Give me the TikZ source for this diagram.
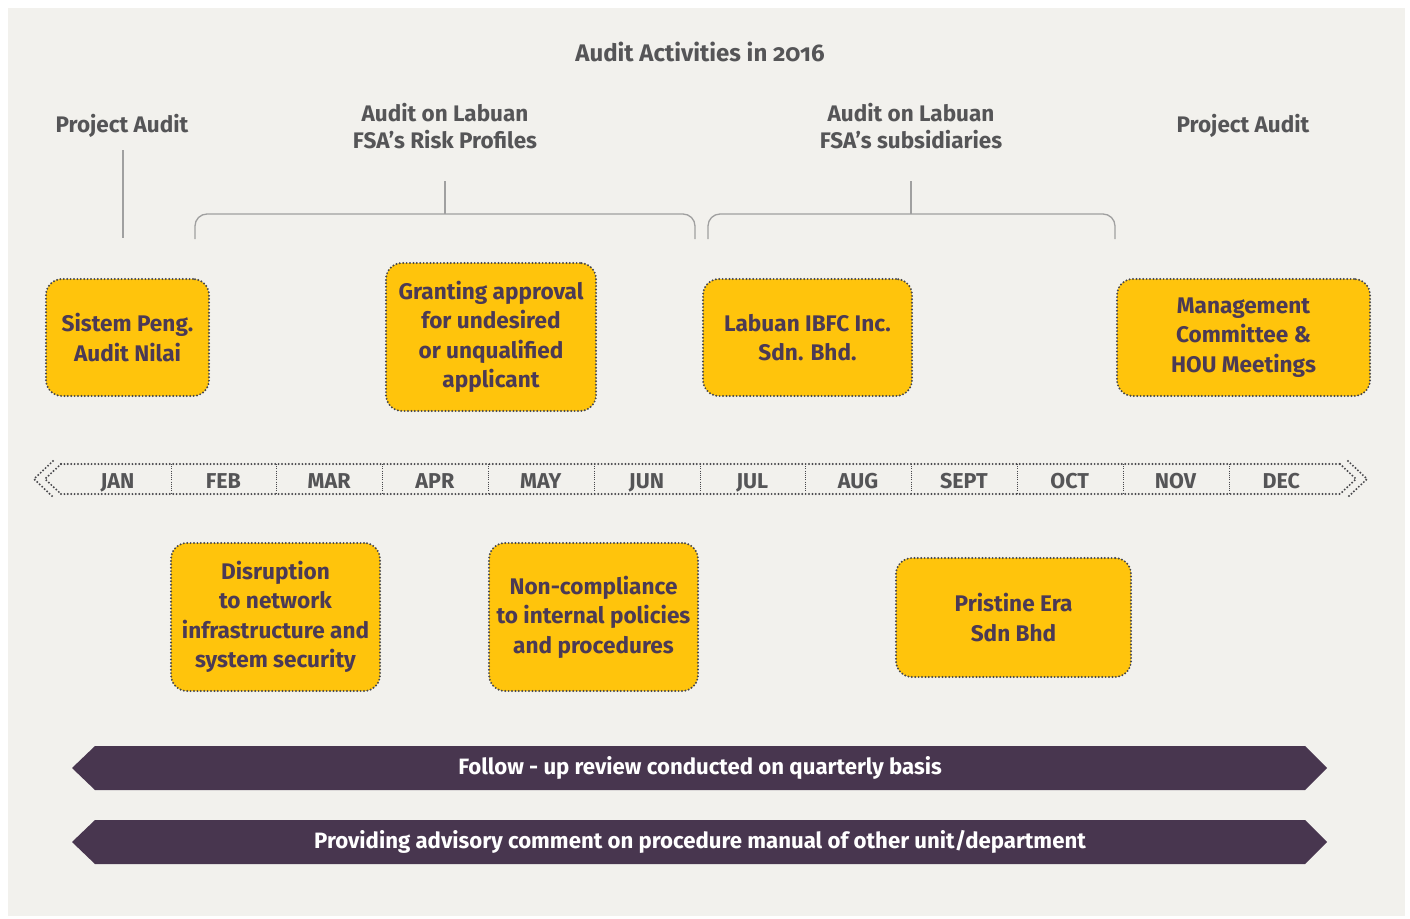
\documentclass[tikz,border=0pt]{standalone}
\usepackage{fontspec}
\setmainfont{Fira Sans}[Numbers=OldStyle]
\definecolor{bg}{HTML}{F2F1ED}
\definecolor{ybox}{HTML}{FFC40C}
\definecolor{ytext}{HTML}{4B3A55}
\definecolor{gtext}{HTML}{555557}
\definecolor{dotc}{HTML}{48484C}
\definecolor{brk}{HTML}{A0A0A0}
\definecolor{band}{HTML}{48364F}
\tikzset{
  act/.style={draw=dotc, line width=2.2pt, dash pattern=on 0pt off 3.4pt, line cap=round,
    fill=ybox, rounded corners=16pt, text=ytext, font=\bfseries\fontsize{22.6}{29.5}\selectfont,
    align=center, inner sep=0pt},
  hdr/.style={text=gtext, font=\bfseries\fontsize{22.5}{27}\selectfont, align=center, inner sep=0pt},
  ttl/.style={text=gtext, font=\bfseries\fontsize{24}{28}\selectfont, inner sep=0pt},
  mon/.style={text=gtext, font=\bfseries\fontsize{21.5}{24}\selectfont, inner sep=0pt},
  dotl/.style={draw=dotc, line width=2.2pt, dash pattern=on 0pt off 3.4pt, line cap=round},
  divl/.style={draw=dotc, line width=1pt, dash pattern=on 1pt off 1.2pt},
  brkl/.style={draw=brk, line width=1.3pt},
  bandtxt/.style={text=white, font=\bfseries\fontsize{22.2}{25}\selectfont, inner sep=0pt}
}
\begin{document}
\begin{tikzpicture}[x=1pt,y=-1pt]
\useasboundingbox (0,0) rectangle (1410,918);
\fill[white] (0,0) rectangle (1410,918);
\fill[bg] (8,8) rectangle (1405,916);

% headers
\node[ttl] (title) at (700,52) {Audit Activities in 2016};
\node[hdr] (pa1) at (122,126) {Project Audit};
\node[hdr] (rp) at (445,126) {Audit on Labuan\\FSA’s Risk Profiles};
\node[hdr] (sub) at (911,126) {Audit on Labuan\\FSA’s subsidiaries};
\node[hdr] (pa2) at (1243,126) {Project Audit};

% connectors / brackets
\coordinate (pa1t) at (123,150);
\coordinate (pa1b) at (123,238);
\draw[brkl] (pa1t) -- (pa1b);
\coordinate (rpt) at (445,181);
\coordinate (rpb) at (445,214);
\draw[brkl] (rpt) -- (rpb);
\draw[brkl, rounded corners=12pt] (195,239) -- (195,214) -- (695,214) -- (695,239);
\coordinate (subt) at (911,181);
\coordinate (subb) at (911,214);
\draw[brkl] (subt) -- (subb);
\draw[brkl, rounded corners=12pt] (708,239) -- (708,214) -- (1115,214) -- (1115,239);

% top boxes
\node[act, minimum width=163pt, minimum height=117pt] (b1) at (127.5,337.5) {Sistem Peng.\\Audit Nilai};
\node[act, minimum width=210pt, minimum height=148pt] (b2) at (491,337) {Granting approval\\for undesired\\or unqualified\\applicant};
\node[act, minimum width=209pt, minimum height=117pt] (b3) at (807.5,337.5) {Labuan IBFC Inc.\\Sdn. Bhd.};
\node[act, minimum width=253pt, minimum height=117pt] (b4) at (1243.5,337.5) {Management\\Committee \&\\HOU Meetings};

% timeline
\draw[dotl] (61,464) -- (1340,464);
\draw[dotl] (61,494) -- (1340,494);
\draw[dotl] (61,464) -- (45,479) -- (61,494);
\draw[dotl] (53,461) -- (34,479) -- (53,497);
\draw[dotl] (1340,464) -- (1356,479) -- (1340,494);
\draw[dotl] (1348,461) -- (1367,479) -- (1348,497);
\foreach \i in {0,...,10} {
  \draw[divl] ({171+105.8*\i},464) -- ({171+105.8*\i},494);
}
\foreach \m [count=\i from 0] in {JAN,FEB,MAR,APR,MAY,JUN,JUL,AUG,SEPT,OCT,NOV,DEC} {
  \node[mon, anchor=base] (m\i) at ({117.5+105.8*\i},488) {\m};
}

% bottom boxes
\node[act, minimum width=209pt, minimum height=148pt] (b5) at (275.5,617) {Disruption\\to network\\infrastructure and\\system security};
\node[act, minimum width=209pt, minimum height=148pt] (b6) at (593.5,617) {Non-compliance\\to internal policies\\and procedures};
\node[act, minimum width=235pt, minimum height=119pt] (b7) at (1013.5,617.5) {Pristine Era\\Sdn Bhd};

% bands
\fill[band] (72,768) -- (95,746) -- (1305,746) -- (1327,768) -- (1305,790) -- (95,790) -- cycle;
\node[bandtxt] (f1) at (700,768) {Follow - up review conducted on quarterly basis};
\fill[band] (72,842) -- (95,820) -- (1305,820) -- (1327,842) -- (1305,864) -- (95,864) -- cycle;
\node[bandtxt] (f2) at (700,842) {Providing advisory comment on procedure manual of other unit/department};
\end{tikzpicture}
\end{document}
